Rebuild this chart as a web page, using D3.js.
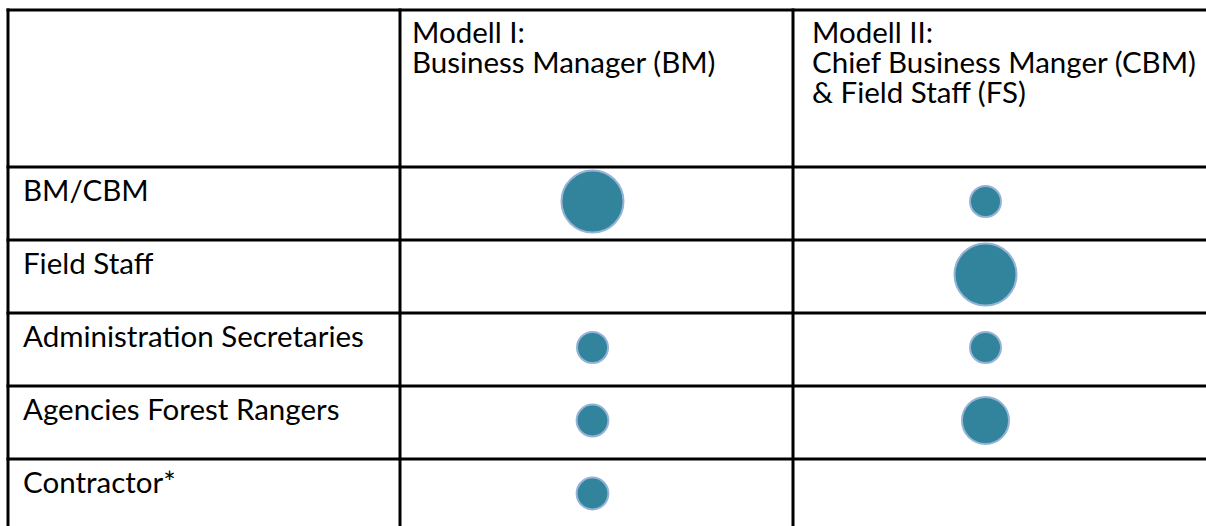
<!DOCTYPE html>
<html>
<head>
<meta charset="utf-8">
<script src="https://cdn.jsdelivr.net/npm/d3@7"></script>
<style>
  html, body { margin: 0; padding: 0; background: #ffffff; overflow: hidden; }
  svg { display: block; }
</style>
</head>
<body>
<svg id="chart" width="1206" height="526"></svg>
<script>
// ---- data ----
const categories = ["BM/CBM", "Field Staff", "Administration Secretaries", "Agencies Forest Rangers", "Contractor*"];
const models = ["I", "II"];
const headerI = ["Modell I:", "Business Manager (BM)"];
const headerII = ["Modell II:", "Chief Business Manger (CBM)", "& Field Staff (FS)"];
const modellI = [4, null, 1, 1.05, 1.05];
const modellII = [1, 4, 1, 2.3, null];

// ---- layout ----
const W = 1206, H = 526;
const svg = d3.select("#chart");
const fontFamily = "Lato, 'Open Sans', sans-serif";

// fit font size so label widths match the reference
const probe = svg.append("text").attr("font-family", fontFamily).attr("font-size", 100).text("Administration Secretaries");
const fs = 100 * 341 / probe.node().getComputedTextLength();
probe.remove();

const tableLeft = 8, tableTop = 10, labelColRight = 400;
const x = d3.scaleBand().domain(models).range([labelColRight, 1186]);
const y = d3.scaleBand().domain(categories).range([167, 532]);
const r = d3.scaleSqrt().domain([0, 4]).range([0, 31]);

const gridColor = "#000000", gridW = 3;

// cell text
const txt = svg.append("g").attr("font-family", fontFamily).attr("font-size", fs).attr("fill", "#000");

txt.selectAll("text.row").data(categories).join("text")
  .attr("class", "row")
  .attr("x", tableLeft + 15)
  .attr("y", d => y(d) + 34)
  .text(d => d);

const headers = [headerI, headerII];
const headerPad = [12, 19];
headers.forEach((lines, i) => {
  txt.append("g").selectAll("text").data(lines).join("text")
    .attr("x", x(models[i]) + headerPad[i])
    .attr("y", (d, j) => tableTop + 33 + j * 30)
    .text(d => d);
});

// circles
const pts = [];
categories.forEach((c, i) => {
  if (modellI[i] != null) pts.push({ cat: c, model: "I", v: modellI[i] });
  if (modellII[i] != null) pts.push({ cat: c, model: "II", v: modellII[i] });
});
svg.append("g").selectAll("circle").data(pts).join("circle")
  .attr("cx", d => x(d.model) + x.bandwidth() / 2 - 4)
  .attr("cy", d => y(d.cat) + y.bandwidth() / 2 - 2)
  .attr("r", d => r(d.v))
  .attr("fill", "#31849b")
  .attr("stroke", "#95b3d7")
  .attr("stroke-width", 2);

// grid lines
const grid = svg.append("g").attr("stroke", gridColor).attr("stroke-width", gridW);
const hLines = [tableTop].concat(categories.map(c => y(c)));
grid.selectAll("line.h").data(hLines).join("line")
  .attr("class", "h")
  .attr("x1", tableLeft - gridW / 2).attr("x2", W + 5)
  .attr("y1", d => d).attr("y2", d => d);
const vLines = [tableLeft, labelColRight, x("II")];
grid.selectAll("line.v").data(vLines).join("line")
  .attr("class", "v")
  .attr("x1", d => d).attr("x2", d => d)
  .attr("y1", tableTop - gridW / 2).attr("y2", H + 5);
</script>
</body>
</html>
